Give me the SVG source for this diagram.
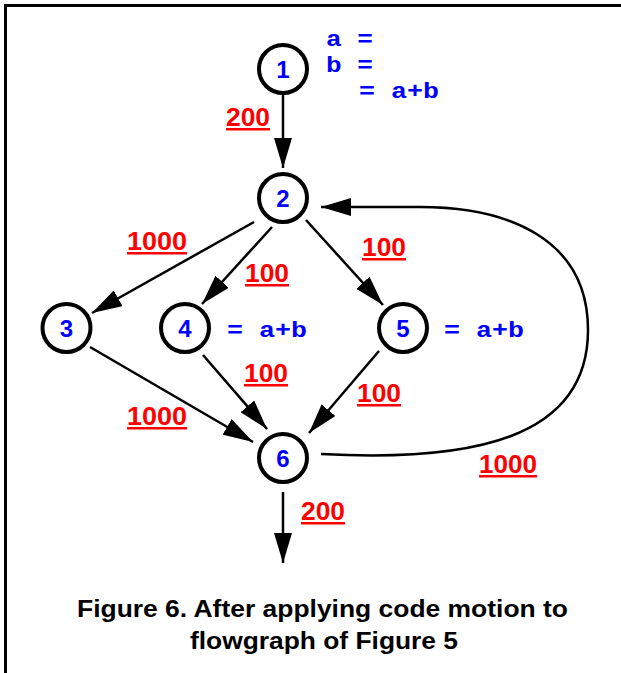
<svg xmlns="http://www.w3.org/2000/svg" width="621" height="673" viewBox="0 0 621 673">
  <style>
    .node circle { fill: #ffffff; stroke: #000000; stroke-width: 4; }
    .node text { font-family: "Liberation Sans", Arial, sans-serif; font-weight: bold; font-size: 24px; fill: #0000ff; text-anchor: middle; }
    .edge { fill: none; stroke: #000000; stroke-width: 2.5; marker-end: url(#arrow); }
    .freq { font-family: "Liberation Sans", Arial, sans-serif; font-weight: bold; font-size: 25px; fill: #ff0000; text-decoration: underline; }
    .code { font-family: "Liberation Mono", "Courier New", monospace; font-weight: bold; font-size: 22px; fill: #0000ff; }
    .caption { font-family: "Liberation Sans", Arial, sans-serif; font-weight: bold; font-size: 23px; fill: #000000; }
  </style>
  <defs>
    <marker id="arrow" viewBox="0 0 30 18" refX="30" refY="9" markerWidth="30" markerHeight="18" markerUnits="userSpaceOnUse" orient="auto">
      <path d="M0,0 L30,9 L0,18 Z" fill="#000000"/>
    </marker>
  </defs>

  <rect width="621" height="673" fill="#ffffff"/>
  <!-- frame: top and left edges -->
  <path d="M5.5,673 V5.5 H621" fill="none" stroke="#000000" stroke-width="3"/>

  <g id="connectors">
    <path class="edge" d="M283,95 L283,168"/>
    <path class="edge" d="M254,222 L92,313"/>
    <path class="edge" d="M272,227 L202,304"/>
    <path class="edge" d="M306,220 L383,305"/>
    <path class="edge" d="M90,347 L253,442"/>
    <path class="edge" d="M203,355 L267,429"/>
    <path class="edge" d="M379,351 L309,433"/>
    <path class="edge" d="M321,454 C470,462 588,440 588,330 C588,240 510,207 420,207 L321,207"/>
    <path class="edge" d="M283,492 L283,563"/>
  </g>

  <g id="edge-labels">
    <text class="freq" x="226" y="126" textLength="44" lengthAdjust="spacingAndGlyphs">200</text>
    <text class="freq" x="127" y="250" textLength="60" lengthAdjust="spacingAndGlyphs">1000</text>
    <text class="freq" x="245" y="282" textLength="44" lengthAdjust="spacingAndGlyphs">100</text>
    <text class="freq" x="362" y="256" textLength="44" lengthAdjust="spacingAndGlyphs">100</text>
    <text class="freq" x="244" y="382" textLength="44" lengthAdjust="spacingAndGlyphs">100</text>
    <text class="freq" x="357" y="402" textLength="44" lengthAdjust="spacingAndGlyphs">100</text>
    <text class="freq" x="127" y="425" textLength="60" lengthAdjust="spacingAndGlyphs">1000</text>
    <text class="freq" x="479" y="473" textLength="58" lengthAdjust="spacingAndGlyphs">1000</text>
    <text class="freq" x="301" y="520" textLength="44" lengthAdjust="spacingAndGlyphs">200</text>
  </g>

  <g id="node1" class="node">
    <circle cx="283" cy="69" r="24"/>
    <text x="283" y="77.5">1</text>
  </g>
  <g id="node2" class="node">
    <circle cx="283" cy="198" r="24"/>
    <text x="283" y="206.5">2</text>
  </g>
  <g id="node3" class="node">
    <circle cx="66.5" cy="328" r="24"/>
    <text x="66.5" y="336.5">3</text>
  </g>
  <g id="node4" class="node">
    <circle cx="185" cy="328" r="24"/>
    <text x="185" y="336.5">4</text>
  </g>
  <g id="node5" class="node">
    <circle cx="403" cy="328" r="24"/>
    <text x="403" y="336.5">5</text>
  </g>
  <g id="node6" class="node">
    <circle cx="283" cy="458" r="24"/>
    <text x="283" y="466.5">6</text>
  </g>

  <g id="code">
    <text class="code" x="326" y="46" textLength="47" lengthAdjust="spacingAndGlyphs">a =</text>
    <text class="code" x="326" y="72" textLength="47" lengthAdjust="spacingAndGlyphs">b =</text>
    <text class="code" x="359" y="98" textLength="80" lengthAdjust="spacingAndGlyphs">= a+b</text>
    <text class="code" x="227" y="337" textLength="80" lengthAdjust="spacingAndGlyphs">= a+b</text>
    <text class="code" x="444" y="337" textLength="80" lengthAdjust="spacingAndGlyphs">= a+b</text>
  </g>

  <g id="caption">
    <text class="caption" x="77" y="617" textLength="491" lengthAdjust="spacingAndGlyphs">Figure 6. After applying code motion to</text>
    <text class="caption" x="190" y="649" textLength="268" lengthAdjust="spacingAndGlyphs">flowgraph of Figure 5</text>
  </g>
</svg>
